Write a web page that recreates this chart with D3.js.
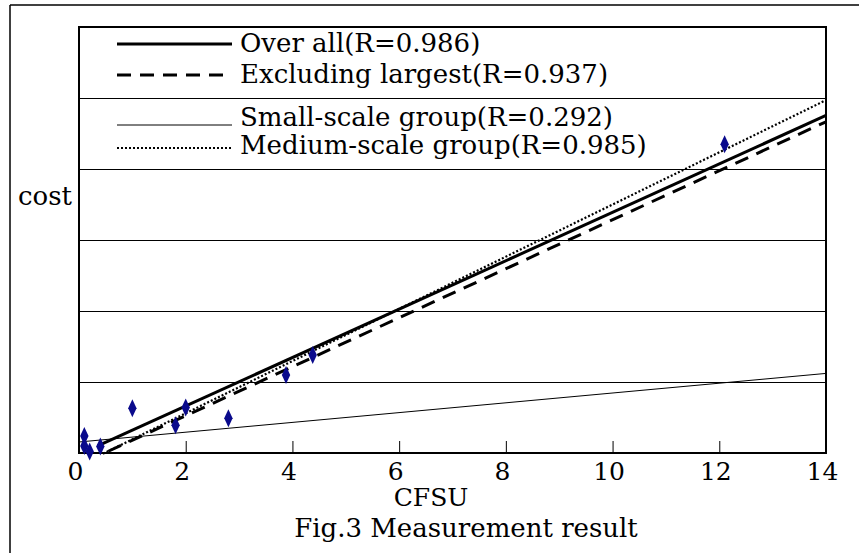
<!DOCTYPE html>
<html>
<head>
<meta charset="utf-8">
<script src="https://cdn.jsdelivr.net/npm/d3@7"></script>
<style>
  body { margin: 0; background: #fff; }
  svg { display: block; }
  text { font-family: "DejaVu Serif", serif; fill: #000; }
</style>
</head>
<body>
<svg id="chart" width="859" height="553"></svg>
<script>
// measured points (CFSU, cost)
const cfsu = [0.1, 0.1, 0.2, 0.4, 1.0, 1.81, 2.0, 2.8, 3.88, 4.38, 12.1];
const cost = [0.24, 0.1, 0.02, 0.09, 0.63, 0.39, 0.64, 0.49, 1.1, 1.38, 4.35];

// regression lines
const fitNames = ["Over all(R=0.986)", "Excluding largest(R=0.937)", "Small-scale group(R=0.292)", "Medium-scale group(R=0.985)"];
const fitSlope = [0.341, 0.345, 0.069, 0.3675];
const fitIntercept = [-0.02, -0.165, 0.155, -0.175];
const fitStart = [0.35, 0.55, 0, 0.45];
const fitEnd = [14, 14, 14, 14];

const xTicks = [0, 2, 4, 6, 8, 10, 12, 14];
const gridValues = [1, 2, 3, 4, 5];

const svg = d3.select("#chart");
const margin = { left: 79, right: 826, top: 27, bottom: 453 };

const x = d3.scaleLinear().domain([0, 14]).range([margin.left, margin.right]);
const y = d3.scaleLinear().domain([0, 6]).range([margin.bottom, margin.top]);

// outer frame (only top and left are visible)
svg.append("line").attr("x1", 10).attr("x2", 859).attr("y1", 5).attr("y2", 5)
  .attr("stroke", "#000").attr("stroke-width", 1.5);
svg.append("line").attr("x1", 10).attr("x2", 10).attr("y1", 5).attr("y2", 553)
  .attr("stroke", "#000").attr("stroke-width", 1.5);

// horizontal grid
svg.append("g").selectAll("line")
  .data(gridValues)
  .join("line")
  .attr("x1", x(0)).attr("x2", x(14))
  .attr("y1", d => Math.round(y(d)) + 0.5).attr("y2", d => Math.round(y(d)) + 0.5)
  .attr("stroke", "#000").attr("stroke-width", 1);

// plot border
svg.append("rect")
  .attr("x", x(0)).attr("y", y(6))
  .attr("width", x(14) - x(0)).attr("height", y(0) - y(6))
  .attr("fill", "none").attr("stroke", "#000").attr("stroke-width", 2);

// x axis with inward ticks
const xAxis = svg.append("g")
  .attr("transform", `translate(0,${y(0)})`)
  .call(d3.axisBottom(x).tickValues(xTicks).tickSizeInner(-12).tickSizeOuter(0).tickPadding(9));
xAxis.select(".domain").remove();
xAxis.selectAll(".tick line").attr("stroke", "#000").attr("stroke-width", 1);
xAxis.selectAll(".tick text")
  .attr("font-family", "DejaVu Serif").attr("font-size", 25)
  .attr("dx", -4).attr("fill", "#000");

// line styles
const styles = [
  { width: 3, dash: null },
  { width: 3, dash: "14,9" },
  { width: 1, dash: null },
  { width: 2.2, dash: "2,2" }
];

const fits = fitNames.map((name, i) => ({
  name,
  pts: [fitStart[i], fitEnd[i]].map(v => [v, fitSlope[i] * v + fitIntercept[i]]),
  style: styles[i]
}));

const line = d3.line().x(d => x(d[0])).y(d => y(d[1]));

svg.append("g").selectAll("path")
  .data(fits)
  .join("path")
  .attr("d", d => line(d.pts))
  .attr("fill", "none")
  .attr("stroke", "#000")
  .attr("stroke-width", d => d.style.width)
  .attr("stroke-dasharray", d => d.style.dash);

// points as tall diamonds
const points = cfsu.map((v, i) => ({ x: v, y: cost[i] }));
svg.append("g").selectAll("path")
  .data(points)
  .join("path")
  .attr("transform", d => `translate(${x(d.x)},${y(d.y)})`)
  .attr("d", "M0,-9L4.2,0L0,9L-4.2,0Z")
  .attr("fill", "#0a0a8c");

// legend
const legendLineY = [44, 75, 125, 148];
const legendTextY = [52, 83, 126, 154];
const legend = svg.append("g");
fits.forEach((f, i) => {
  legend.append("line")
    .attr("x1", 117).attr("x2", 232)
    .attr("y1", legendLineY[i]).attr("y2", legendLineY[i])
    .attr("stroke", "#000")
    .attr("stroke-width", f.style.width)
    .attr("stroke-dasharray", f.style.dash);
  legend.append("text")
    .attr("x", 240).attr("y", legendTextY[i])
    .attr("font-size", 26)
    .text(f.name);
});

// titles
svg.append("text").attr("x", 18).attr("y", 205).attr("font-size", 26).text("cost");
svg.append("text").attr("x", 431).attr("y", 506).attr("text-anchor", "middle").attr("font-size", 25).text("CFSU");
svg.append("text").attr("x", 466).attr("y", 537).attr("text-anchor", "middle").attr("font-size", 26).text("Fig.3 Measurement result");
</script>
</body>
</html>
